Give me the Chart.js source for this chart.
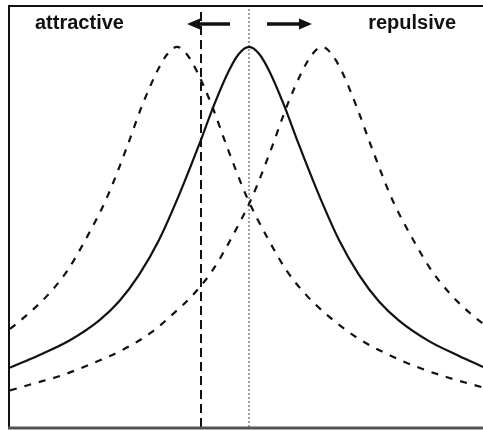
<!DOCTYPE html>
<html>
<head>
<meta charset="utf-8">
<script src="https://cdn.jsdelivr.net/npm/chart.js@4.4.1/dist/chart.umd.min.js"></script>
<style>
  html, body { margin: 0; padding: 0; background: #fff; }
  #wrap { width: 483px; height: 430px; position: relative; }
</style>
</head>
<body>
<div id="wrap"><canvas id="resChart"></canvas></div>
<script>
// detuning (x) and normalised line height (y) for each profile
const solidX = [-2.39, -2.1, -1.8, -1.5, -1.3, -1.1, -0.9, -0.7, -0.5, -0.35, -0.2, -0.1, 0,
                0.1, 0.2, 0.35, 0.5, 0.7, 0.9, 1.1, 1.3, 1.5, 1.8, 2.1, 2.34];
const solidY = [0.156, 0.189, 0.227, 0.280, 0.330, 0.400, 0.492, 0.610, 0.742, 0.847, 0.938, 0.982, 1.0,
                0.982, 0.938, 0.847, 0.742, 0.610, 0.492, 0.400, 0.330, 0.280, 0.226, 0.187, 0.158];

const leftX = [-2.39, -2.22, -2.02, -1.82, -1.62, -1.42, -1.22, -1.07, -0.92, -0.82, -0.72,
               -0.62, -0.52, -0.37, -0.22, -0.02, 0.18, 0.38, 0.58, 0.78, 1.08, 1.38, 1.68, 1.98, 2.34];
const leftY = [0.258, 0.295, 0.345, 0.410, 0.500, 0.604, 0.737, 0.845, 0.935, 0.980, 1.0,
               0.980, 0.935, 0.845, 0.737, 0.604, 0.500, 0.410, 0.345, 0.295, 0.235, 0.192, 0.158, 0.131, 0.104];

const rightX = [-2.39, -2.17, -1.87, -1.57, -1.27, -0.97, -0.77, -0.57, -0.37, -0.17, 0.03, 0.23,
                0.38, 0.53, 0.63, 0.73, 0.83, 0.93, 1.08, 1.23, 1.43, 1.63, 1.83, 2.03, 2.23, 2.34];
const rightY = [0.096, 0.113, 0.136, 0.167, 0.202, 0.250, 0.295, 0.345, 0.410, 0.500, 0.604, 0.737,
                0.845, 0.935, 0.980, 1.0, 0.980, 0.935, 0.840, 0.733, 0.600, 0.498, 0.410, 0.345, 0.295, 0.272];

// markers: laser detuning (dashed) and resonance centre (dotted)
const laserX = -0.48;
const centreX = 0;

// shift arrows [tail, tip] at height arrowY
const arrowY = 1.06;
const arrowAttr = [-0.19, -0.62];
const arrowRep = [0.18, 0.63];

const labels = ['attractive', 'repulsive'];

const xMin = -2.39, xMax = 2.34, yMin = 0, yMax = 1.105;

function pts(xs, ys) {
  return xs.map((x, i) => ({ x: x, y: ys[i] }));
}

// frame (left, top, bottom), arrows and labels
const decor = {
  id: 'decor',
  afterDatasetsDraw(chart) {
    const c = chart.ctx, a = chart.chartArea;
    const sx = chart.scales.x, sy = chart.scales.y;
    c.save();

    c.strokeStyle = '#111';
    c.lineWidth = 2;
    c.beginPath();
    c.moveTo(a.left - 1, a.bottom);
    c.lineTo(a.left - 1, a.top - 1);
    c.lineTo(a.right, a.top - 1);
    c.stroke();
    c.strokeStyle = '#555';
    c.lineWidth = 3;
    c.beginPath();
    c.moveTo(a.left - 2, a.bottom + 1);
    c.lineTo(a.right, a.bottom + 1);
    c.stroke();

    const y = sy.getPixelForValue(arrowY);
    [arrowAttr, arrowRep].forEach(ar => {
      const x0 = sx.getPixelForValue(ar[0]);
      const x1 = sx.getPixelForValue(ar[1]);
      const dir = Math.sign(x1 - x0);
      c.strokeStyle = '#111';
      c.fillStyle = '#111';
      c.lineWidth = 3.5;
      c.beginPath();
      c.moveTo(x0, y);
      c.lineTo(x1 - dir * 8, y);
      c.stroke();
      c.beginPath();
      c.moveTo(x1, y);
      c.lineTo(x1 - dir * 13, y - 5.5);
      c.lineTo(x1 - dir * 13, y + 5.5);
      c.closePath();
      c.fill();
    });

    c.fillStyle = '#111';
    c.font = 'bold 20px "Liberation Sans", Arial, sans-serif';
    c.textBaseline = 'alphabetic';
    c.textAlign = 'left';
    c.fillText(labels[0], a.left + 25, 29);
    c.textAlign = 'right';
    c.fillText(labels[1], a.right - 27, 29);
    c.restore();
  }
};

document.addEventListener('DOMContentLoaded', function() {
  const ctx = document.getElementById('resChart').getContext('2d');

  const curve = (data, dash) => ({
    data: data,
    borderColor: '#111',
    borderWidth: 2.2,
    borderDash: dash,
    pointRadius: 0,
    cubicInterpolationMode: 'monotone',
    fill: false
  });

  new Chart(ctx, {
    type: 'line',
    data: {
      datasets: [
        curve(pts(solidX, solidY), []),
        curve(pts(leftX, leftY), [7, 8]),
        curve(pts(rightX, rightY), [7, 8]),
        {
          data: [{ x: laserX, y: yMin }, { x: laserX, y: yMax }],
          borderColor: '#111', borderWidth: 2, borderDash: [9, 5], pointRadius: 0
        },
        {
          data: [{ x: centreX, y: yMin }, { x: centreX, y: yMax }],
          borderColor: '#444', borderWidth: 1, borderDash: [2, 2], pointRadius: 0
        }
      ]
    },
    options: {
      responsive: true,
      maintainAspectRatio: false,
      animation: false,
      layout: { padding: { left: 10, right: 0, top: 7, bottom: 3 } },
      plugins: { legend: { display: false }, tooltip: { enabled: false } },
      scales: {
        x: { type: 'linear', min: xMin, max: xMax, display: false },
        y: { min: yMin, max: yMax, display: false }
      }
    },
    plugins: [decor]
  });
});
</script>
</body>
</html>
